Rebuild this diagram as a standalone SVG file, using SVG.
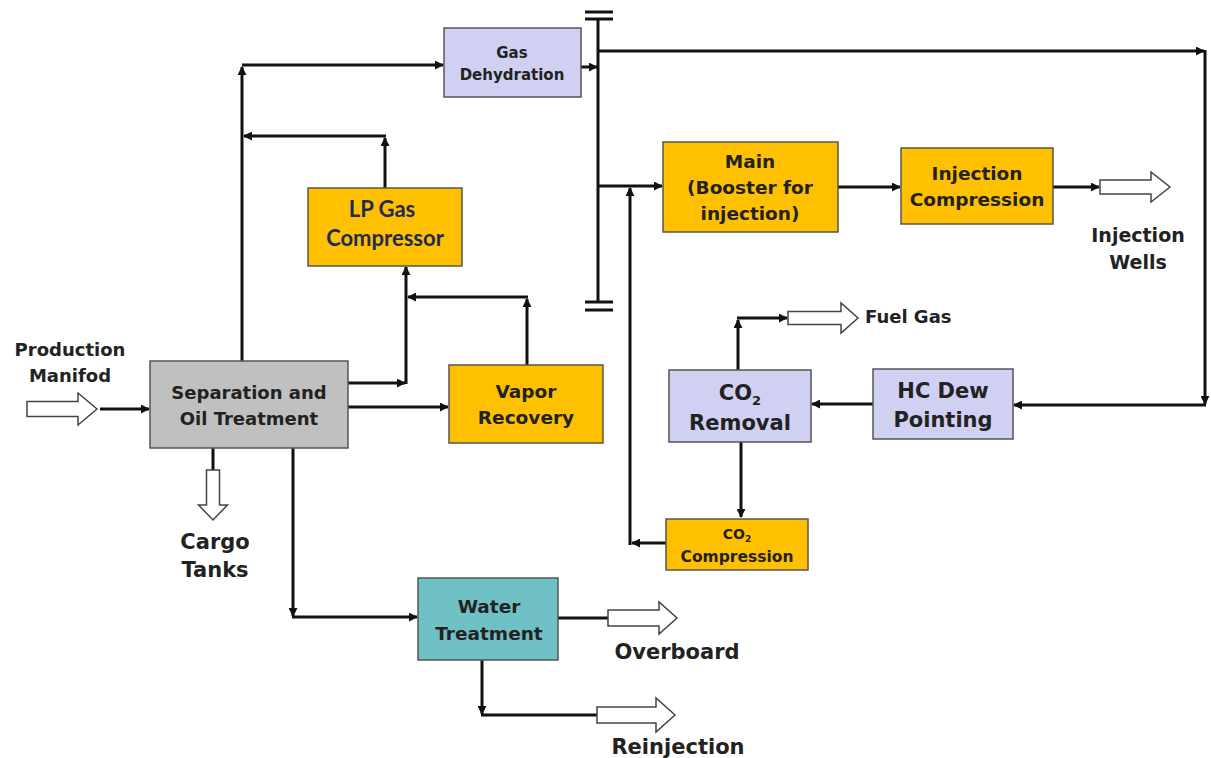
<svg xmlns="http://www.w3.org/2000/svg" width="1211" height="758" viewBox="0 0 1211 758">
<defs>
<marker id="ah" viewBox="0 0 10 10" refX="9" refY="5" markerWidth="3" markerHeight="3" orient="auto" markerUnits="strokeWidth">
<path d="M0,0 L10,5 L0,10 z" fill="#111"/>
</marker>
<style>
.ln{fill:none;stroke:#111;stroke-width:3}
.lnA{fill:none;stroke:#111;stroke-width:3;marker-end:url(#ah)}
.box{stroke:#555;stroke-width:1.5}
.lav{fill:#d0d0f2}
.org{fill:#ffc000}
.gry{fill:#c0c0c0}
.teal{fill:#6fc1c6}
.hollow{fill:#fff;stroke:#444;stroke-width:1.5}
.t{font-family:"DejaVu Sans",Verdana,sans-serif;font-weight:bold;fill:#222;text-anchor:middle}
.tn{font-family:"Lato","Liberation Sans",sans-serif;font-weight:bold;fill:#1f2a55;text-anchor:middle}
</style>
</defs>
<rect width="1211" height="758" fill="#fff"/>

<g id="connectors">
<path class="lnA" d="M242,361 V67"/>
<path class="lnA" d="M242,65 H443"/>
<path class="lnA" d="M385,188 V138"/>
<path class="lnA" d="M386,136 H244"/>
<path class="lnA" d="M348,383 H405"/>
<path class="lnA" d="M406,384 V267"/>
<path class="lnA" d="M527,365 V299"/>
<path class="lnA" d="M528,297 H408"/>
<path class="lnA" d="M348,407 H448"/>
<path class="lnA" d="M100,409 H149"/>
<path class="lnA" d="M581,67 H597"/>
<path class="lnA" d="M598,51 H1204"/>
<path class="lnA" d="M1205,50 V404"/>
<path class="lnA" d="M1206,405 H1014"/>
<path class="lnA" d="M873,404 H812"/>
<path class="lnA" d="M738,370 V320"/>
<path class="lnA" d="M737,318 H787"/>
<path class="lnA" d="M741,442 V517"/>
<path class="lnA" d="M666,543 H632"/>
<path class="lnA" d="M630,545 V188"/>
<path class="lnA" d="M598,186 H662"/>
<path class="lnA" d="M838,187 H900"/>
<path class="lnA" d="M1053,187 H1099"/>
<path class="lnA" d="M293,448 V616"/>
<path class="lnA" d="M292,617 H417"/>
<path class="ln" d="M558,618 H608"/>
<path class="lnA" d="M482,660 V714"/>
<path class="ln" d="M481,715 H597"/>
<path class="ln" d="M213,448 V470"/>
<path class="ln" d="M598,19 V302"/>
<path class="ln" d="M585,12 H613 M585,19 H613 M585,302 H613 M585,310 H613"/>
</g>

<g id="hollow-arrows">
<polygon class="hollow" points="27,401.5 78,401.5 78,393 97,409 78,425 78,416.5 27,416.5"/>
<polygon class="hollow" points="1100,180 1151,180 1151,172 1170,187 1151,202 1151,194 1100,194"/>
<polygon class="hollow" points="788,311.5 841,311.5 841,303 858,318 841,333 841,324.5 788,324.5"/>
<polygon class="hollow" points="608,610 659,610 659,602 677,618 659,634 659,626 608,626"/>
<polygon class="hollow" points="597,707 656,707 656,698 675,715 656,732 656,723 597,723"/>
<polygon class="hollow" points="206.5,470 219.5,470 219.5,505 227.5,505 213,520 198.5,505 206.5,505"/>
</g>

<g id="gas-dehydration">
<rect class="box lav" x="444" y="28" width="137" height="69"/>
<text class="t" x="512" y="58" font-size="15">Gas</text>
<text class="t" x="512" y="80" font-size="15">Dehydration</text>
</g>

<g id="lp-gas-compressor">
<rect class="box org" x="308" y="188" width="154" height="78"/>
<text class="tn" x="382" y="217" font-size="22">LP Gas</text>
<text class="tn" x="385" y="246" font-size="22">Compressor</text>
</g>

<g id="separation">
<rect class="box gry" x="150" y="361" width="198" height="87"/>
<text class="t" x="249" y="399" font-size="18">Separation and</text>
<text class="t" x="249" y="425" font-size="18">Oil Treatment</text>
</g>

<g id="vapor-recovery">
<rect class="box org" x="449" y="365" width="154" height="78"/>
<text class="t" x="526" y="398" font-size="18.5">Vapor</text>
<text class="t" x="526" y="424" font-size="18.5">Recovery</text>
</g>

<g id="main-booster">
<rect class="box org" x="663" y="142" width="175" height="90"/>
<text class="t" x="750" y="168" font-size="18.5">Main</text>
<text class="t" x="750" y="194" font-size="18.5">(Booster for</text>
<text class="t" x="750" y="220" font-size="18.5">injection)</text>
</g>

<g id="injection-compression">
<rect class="box org" x="901" y="148" width="152" height="76"/>
<text class="t" x="977" y="180" font-size="18.5">Injection</text>
<text class="t" x="977" y="206" font-size="18.5">Compression</text>
</g>

<g id="hc-dew-pointing">
<rect class="box lav" x="873" y="369" width="140" height="70"/>
<text class="t" x="943" y="398" font-size="21">HC Dew</text>
<text class="t" x="943" y="427" font-size="21">Pointing</text>
</g>

<g id="co2-removal">
<rect class="box lav" x="669" y="370" width="142" height="72"/>
<text class="t" x="740" y="400" font-size="21">CO<tspan font-size="13" dy="5">2</tspan></text>
<text class="t" x="740" y="430" font-size="21">Removal</text>
</g>

<g id="co2-compression">
<rect class="box org" x="666" y="519" width="142" height="51"/>
<text class="t" x="737" y="539" font-size="14">CO<tspan font-size="9" dy="3">2</tspan></text>
<text class="t" x="737" y="562" font-size="15.5">Compression</text>
</g>

<g id="water-treatment">
<rect class="box teal" x="418" y="578" width="140" height="82"/>
<text class="t" x="489" y="613" font-size="18.5">Water</text>
<text class="t" x="489" y="640" font-size="18.5">Treatment</text>
</g>

<g id="labels">
<text class="t" x="70" y="356" font-size="18">Production</text>
<text class="t" x="70" y="382" font-size="18">Manifod</text>
<text class="t" x="215" y="549" font-size="21">Cargo</text>
<text class="t" x="215" y="577" font-size="21">Tanks</text>
<text class="t" x="677" y="659" font-size="21">Overboard</text>
<text class="t" x="678" y="754" font-size="21">Reinjection</text>
<text class="t" x="1138" y="242" font-size="19">Injection</text>
<text class="t" x="1138" y="269" font-size="19">Wells</text>
<text class="t" x="865" y="323" font-size="18" style="text-anchor:start">Fuel Gas</text>
</g>
</svg>
